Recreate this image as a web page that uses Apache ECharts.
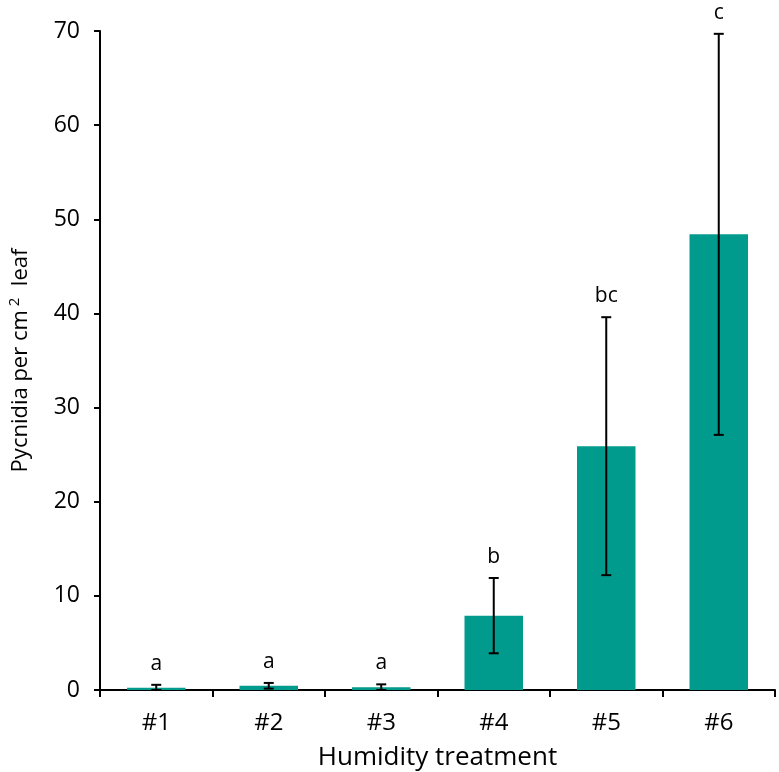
<!DOCTYPE html>
<html>
<head>
<meta charset="utf-8">
<script src="https://cdn.jsdelivr.net/npm/echarts@6/dist/echarts.min.js"></script>
<style>html,body{margin:0;padding:0;background:#fff}#c{width:779px;height:772px}</style>
</head>
<body>
<div id="c"></div>
<script>
const categories = ['#1', '#2', '#3', '#4', '#5', '#6'];
const means = [0.25, 0.45, 0.3, 7.9, 25.9, 48.4];
const errors = [0.3, 0.3, 0.3, 4.0, 13.7, 21.3];
const letters = ['a', 'a', 'a', 'b', 'bc', 'c'];
const yTicks = [0, 10, 20, 30, 40, 50, 60, 70];

const FONT = '"Open Sans", "Noto Sans", sans-serif';
const chart = echarts.init(document.getElementById('c'), null, {renderer: 'canvas'});

const errData = categories.map((c, i) => [i, Math.max(0, means[i] - errors[i]), means[i] + errors[i], letters[i]]);

chart.setOption({
  animation: false,
  backgroundColor: '#fff',
  grid: {left: 100, right: 4, top: 31, bottom: 82, containLabel: false, outerBoundsMode: 'none'},
  xAxis: {
    type: 'category',
    data: categories,
    boundaryGap: true,
    axisLine: {lineStyle: {color: '#000', width: 2}},
    axisTick: {show: true, inside: false, length: 7, alignWithLabel: false, lineStyle: {color: '#000', width: 2}},
    axisLabel: {color: '#000', fontSize: 24, fontFamily: FONT, margin: 21},
    name: 'Humidity treatment',
    nameLocation: 'middle',
    nameGap: 55,
    nameTextStyle: {color: '#000', fontSize: 26, fontFamily: FONT}
  },
  yAxis: {
    type: 'value',
    min: yTicks[0],
    max: yTicks[yTicks.length - 1],
    interval: 10,
    splitLine: {show: false},
    axisLine: {show: true, lineStyle: {color: '#000', width: 2}},
    axisTick: {show: true, inside: false, length: 6, lineStyle: {color: '#000', width: 2}},
    axisLabel: {color: '#000', fontSize: 23, fontFamily: FONT, margin: 20},
    name: 'Pycnidia per cm{sup|2}  leaf',
    nameLocation: 'middle',
    nameGap: 66,
    nameRotate: 90,
    nameTextStyle: {
      color: '#000', fontSize: 22, fontFamily: FONT,
      rich: {sup: {fontSize: 15, fontFamily: FONT, color: '#000', verticalAlign: 'top', padding: [0, 0, 12, 4]}}
    }
  },
  series: [
    {
      type: 'bar',
      data: means,
      barWidth: '52%',
      itemStyle: {color: '#009B8D'}
    },
    {
      type: 'custom',
      data: errData,
      z: 10,
      renderItem: function (params, api) {
        const x = api.value(0);
        const lo = api.coord([x, api.value(1)]);
        const hi = api.coord([x, api.value(2)]);
        const cap = 5;
        const style = {stroke: '#000', lineWidth: 2};
        return {
          type: 'group',
          children: [
            {type: 'line', shape: {x1: hi[0], y1: hi[1], x2: lo[0], y2: lo[1]}, style: style},
            {type: 'line', shape: {x1: hi[0] - cap, y1: hi[1], x2: hi[0] + cap, y2: hi[1]}, style: style},
            {type: 'line', shape: {x1: lo[0] - cap, y1: lo[1], x2: lo[0] + cap, y2: lo[1]}, style: style},
            {type: 'text', x: hi[0], y: hi[1] - 21,
              style: {text: api.value(3), fill: '#000', font: '21px ' + FONT, align: 'center', verticalAlign: 'middle'}}
          ]
        };
      }
    }
  ]
});
</script>
</body>
</html>
